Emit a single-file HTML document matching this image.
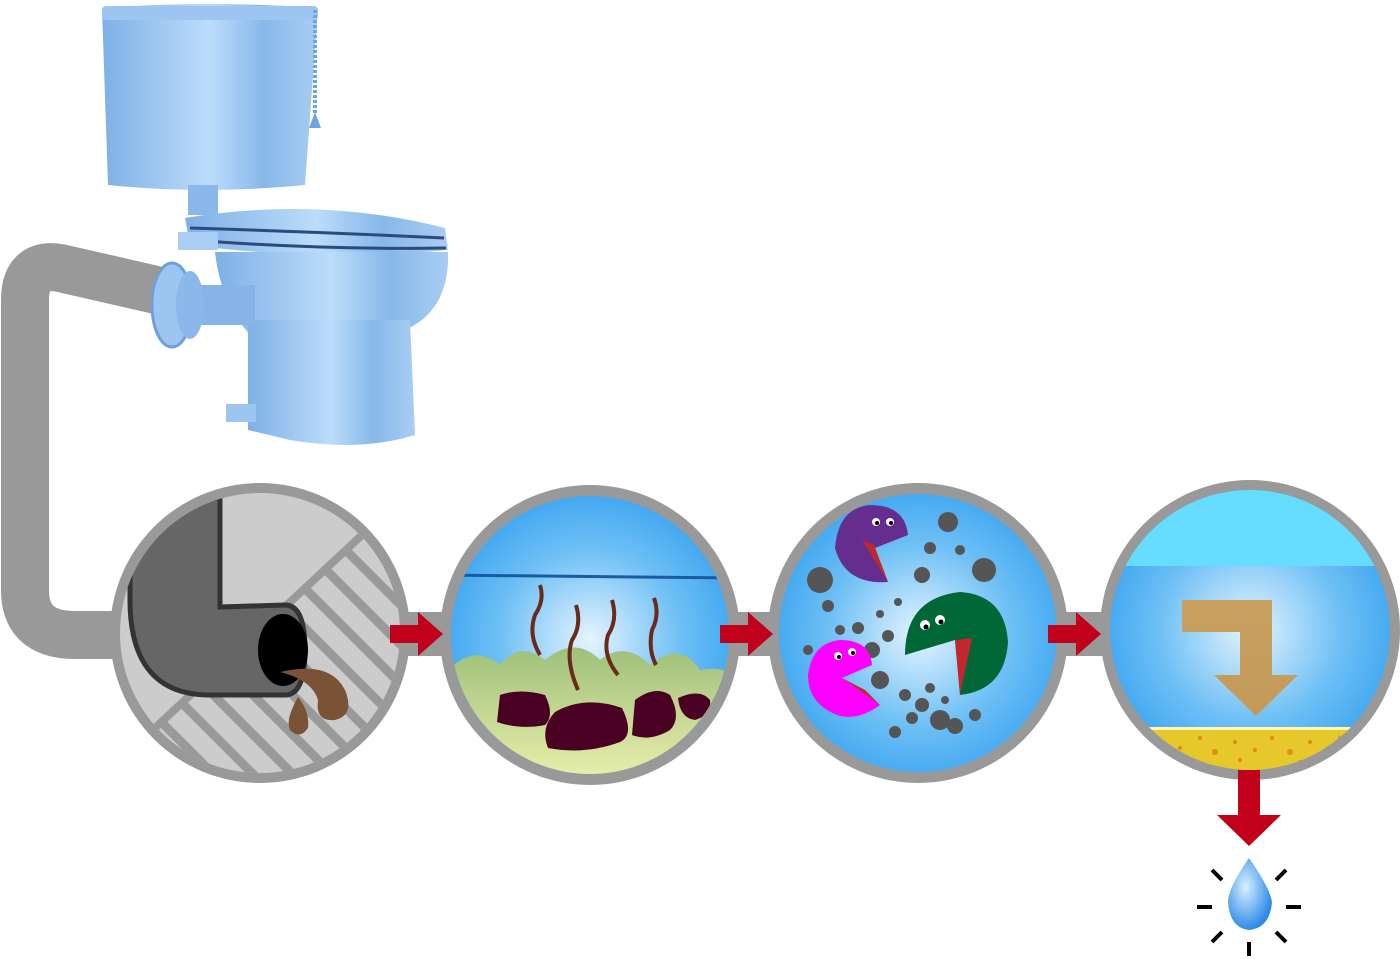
<!DOCTYPE html>
<html><head><meta charset="utf-8"><style>html,body{margin:0;padding:0;background:#fff}svg{display:block}</style></head>
<body>
<svg width="1400" height="959" viewBox="0 0 1400 959" xmlns="http://www.w3.org/2000/svg">
<defs>
<linearGradient id="tb" x1="0" x2="1" y1="0" y2="0">
<stop offset="0" stop-color="#7eb0e6"/><stop offset="0.5" stop-color="#bcdcfa"/><stop offset="0.75" stop-color="#86b8ea"/><stop offset="1" stop-color="#a9cdf3"/></linearGradient>
<radialGradient id="bl" cx="0.5" cy="0.5" r="0.5"><stop offset="0" stop-color="#e6f4ff"/><stop offset="0.6" stop-color="#6fc0f5"/><stop offset="1" stop-color="#3fa6f0"/></radialGradient>
<radialGradient id="drop" cx="0.4" cy="0.4" r="0.6"><stop offset="0" stop-color="#d8f0ff"/><stop offset="1" stop-color="#2f8ce8"/></radialGradient>
<linearGradient id="arr" x1="0" x2="0" y1="0" y2="1"><stop offset="0" stop-color="#c8a060"/><stop offset="1" stop-color="#c49a58"/></linearGradient>
<linearGradient id="ground" x1="0" x2="0" y1="0" y2="1"><stop offset="0" stop-color="#9ec07a"/><stop offset="1" stop-color="#f0f2b0"/></linearGradient>
<clipPath id="c1"><circle cx="260" cy="633" r="140"/></clipPath>
<clipPath id="c2"><circle cx="590" cy="635" r="139"/></clipPath>
<clipPath id="c3"><circle cx="918" cy="633" r="139"/></clipPath>
<clipPath id="c4"><circle cx="1250" cy="630" r="140"/></clipPath>
<pattern id="hatch" patternUnits="userSpaceOnUse" width="28" height="28" patternTransform="rotate(-45)">
<rect width="28" height="28" fill="#999"/><rect x="0" y="0" width="19" height="28" fill="#ccc"/></pattern>
</defs>

<path d="M165 292 L60 268 Q25 262 25 300 L25 590 Q25 635 75 635 L130 635" fill="none" stroke="#999" stroke-width="48"/>
<rect x="395" y="612" width="60" height="44" fill="#999"/>
<rect x="725" y="612" width="60" height="44" fill="#999"/>
<rect x="1055" y="612" width="60" height="44" fill="#999"/>

<path d="M102 8 Q210 0 318 8 L305 185 Q205 195 108 185 Z" fill="url(#tb)"/>
<rect x="102" y="6" width="216" height="14" rx="4" fill="#9cc6f1"/>
<line x1="315" y1="10" x2="315" y2="115" stroke="#6fa5df" stroke-width="4" stroke-dasharray="3,2"/>
<path d="M309 128 L315 112 L321 128 Z" fill="#6fa5df"/>
<rect x="188" y="185" width="30" height="30" fill="#8ab8ea"/>
<path d="M185 218 Q320 196 445 228 L448 250 Q320 262 190 245 Z" fill="url(#tb)"/>
<path d="M190 228 Q320 232 444 238" stroke="#2a4a80" stroke-width="3" fill="none"/>
<path d="M192 240 Q320 250 446 248" stroke="#2a4a80" stroke-width="3" fill="none"/>
<rect x="178" y="232" width="40" height="18" fill="#a9cdf3"/>
<path d="M215 252 L448 252 Q450 310 405 330 L250 335 Q220 300 215 252 Z" fill="url(#tb)"/>
<path d="M248 320 L410 320 L415 435 Q360 452 290 440 L248 430 Z" fill="url(#tb)"/>
<rect x="226" y="404" width="30" height="18" fill="#9cc6f1"/>
<rect x="175" y="285" width="80" height="40" fill="#86b4e6"/>
<ellipse cx="172" cy="305" rx="20" ry="42" fill="#9cc6f1" stroke="#6fa0d8" stroke-width="3"/>
<ellipse cx="190" cy="305" rx="14" ry="34" fill="#8ab8ea"/>

<circle cx="260" cy="633" r="150" fill="#999"/>
<g clip-path="url(#c1)">
<rect x="100" y="480" width="330" height="310" fill="#ccc"/>
<path d="M362 535 L450 620 L450 800 L240 800 L155 728 Z" fill="url(#hatch)"/>
<path d="M362 535 L155 728" stroke="#999" stroke-width="8"/>
<path d="M130 498 L220 498 L220 607 L285 605 Q305 605 305 650 Q305 695 285 695 L210 695 Q130 695 130 600 Z" fill="#666" stroke="#333" stroke-width="5"/>
<ellipse cx="283" cy="650" rx="25" ry="36" fill="#000"/>
<path d="M280 672 Q330 660 345 690 Q355 715 335 720 Q315 722 318 700 Q312 680 280 672 Z" fill="#7a5236"/>
<path d="M298 697 Q285 720 290 730 Q300 740 308 728 Q310 712 298 697 Z" fill="#7a5236"/>
</g>

<circle cx="590" cy="635" r="150" fill="#999"/>
<g clip-path="url(#c2)">
<rect x="440" y="490" width="300" height="300" fill="url(#bl)"/>
<line x1="440" y1="575" x2="740" y2="578" stroke="#1a5aa0" stroke-width="3"/>
<path d="M440 680 Q470 640 500 665 Q520 640 545 660 Q575 635 600 660 Q625 640 650 665 Q680 640 700 670 Q725 665 740 680 L740 790 L440 790 Z" fill="url(#ground)"/>
<path d="M500 695 Q520 688 545 695 Q555 715 545 725 Q520 730 497 722 Z" fill="#4a0022"/>
<path d="M555 712 Q585 695 622 708 Q635 735 620 742 Q585 755 548 748 Q540 728 555 712 Z" fill="#4a0022"/>
<path d="M635 700 Q655 685 670 695 Q682 718 670 730 Q650 742 632 735 Z" fill="#4a0022"/>
<path d="M678 698 Q700 688 710 700 Q712 715 695 720 Q680 718 678 698 Z" fill="#4a0022"/>
<g fill="none" stroke="#6b2a1a" stroke-width="4">
<path d="M540 585 Q545 600 535 615 Q528 635 540 655"/>
<path d="M576 605 Q582 625 572 640 Q565 660 578 690"/>
<path d="M612 600 Q618 620 608 635 Q602 655 618 675"/>
<path d="M654 598 Q660 615 652 630 Q648 650 656 665"/>
</g>
</g>

<circle cx="918" cy="633" r="150" fill="#999"/>
<g clip-path="url(#c3)">
<rect x="770" y="485" width="300" height="300" fill="url(#bl)"/>
<g fill="#555">
<circle cx="820" cy="580" r="13"/><circle cx="948" cy="522" r="10"/><circle cx="984" cy="570" r="12"/>
<circle cx="930" cy="548" r="6"/><circle cx="922" cy="575" r="8"/><circle cx="960" cy="550" r="5"/>
<circle cx="828" cy="606" r="6"/><circle cx="858" cy="628" r="6"/><circle cx="840" cy="630" r="5"/>
<circle cx="888" cy="636" r="6"/><circle cx="808" cy="650" r="5"/><circle cx="880" cy="680" r="9"/>
<circle cx="905" cy="695" r="6"/><circle cx="922" cy="705" r="7"/><circle cx="940" cy="720" r="10"/>
<circle cx="955" cy="726" r="8"/><circle cx="912" cy="718" r="6"/><circle cx="895" cy="732" r="6"/>
<circle cx="975" cy="715" r="6"/><circle cx="930" cy="688" r="5"/><circle cx="945" cy="700" r="4"/>
<circle cx="872" cy="650" r="8"/><circle cx="898" cy="602" r="4"/><circle cx="880" cy="614" r="4"/>
</g>
<path d="M870 505 Q905 505 908 535 L875 548 L888 582 Q845 585 835 548 Q838 508 870 505 Z" fill="#662d91"/>
<path d="M862 540 L888 582 L874 545 Z" fill="#c1272d"/>
<circle cx="876" cy="522" r="4" fill="#fff"/><circle cx="890" cy="522" r="4" fill="#fff"/>
<circle cx="877" cy="523" r="2" fill="#000"/><circle cx="891" cy="523" r="2" fill="#000"/>
<path d="M960 592 Q1005 595 1008 642 Q1005 690 960 695 L955 640 L905 655 Q905 598 960 592 Z" fill="#006837"/>
<path d="M955 640 L960 695 L972 638 Z" fill="#c1272d"/>
<circle cx="925" cy="625" r="5" fill="#fff"/><circle cx="940" cy="620" r="5" fill="#fff"/>
<circle cx="926" cy="627" r="2.5" fill="#000"/><circle cx="941" cy="622" r="2.5" fill="#000"/>
<path d="M840 640 Q870 640 872 665 L842 678 L880 705 Q860 720 840 716 Q808 705 808 675 Q812 643 840 640 Z" fill="#ff00ff"/>
<path d="M842 678 L880 705 L865 690 Z" fill="#c1272d"/>
<circle cx="838" cy="656" r="4" fill="#fff"/><circle cx="852" cy="652" r="4" fill="#fff"/>
<circle cx="839" cy="657" r="2" fill="#000"/><circle cx="853" cy="653" r="2" fill="#000"/>
</g>

<circle cx="1250" cy="630" r="150" fill="#999"/>
<g clip-path="url(#c4)">
<rect x="1100" y="480" width="300" height="300" fill="url(#bl)"/>
<rect x="1100" y="480" width="300" height="86" fill="#66ddff"/>
<rect x="1100" y="727" width="300" height="60" fill="#e6c82a"/>
<rect x="1100" y="727" width="300" height="3" fill="#fff6b0"/>
<g fill="#e08a1a">
<circle cx="1160" cy="740" r="2"/><circle cx="1180" cy="748" r="2"/><circle cx="1200" cy="738" r="2"/><circle cx="1215" cy="752" r="3"/>
<circle cx="1235" cy="742" r="2"/><circle cx="1255" cy="750" r="2"/><circle cx="1272" cy="738" r="2"/><circle cx="1290" cy="752" r="3"/>
<circle cx="1310" cy="742" r="2"/><circle cx="1328" cy="748" r="2"/><circle cx="1170" cy="758" r="2"/><circle cx="1240" cy="760" r="2"/>
<circle cx="1300" cy="762" r="2"/><circle cx="1340" cy="738" r="2"/><circle cx="1150" cy="750" r="2"/>
</g>
<path d="M1182 600 L1272 600 L1272 675 L1298 675 L1256 716 L1214 675 L1240 675 L1240 632 L1182 632 Z" fill="url(#arr)"/>
</g>

<g fill="#c1001b">
<path d="M390 625 L418 625 L418 612 L443 634 L418 656 L418 643 L390 643 Z"/>
<path d="M720 625 L748 625 L748 612 L773 634 L748 656 L748 643 L720 643 Z"/>
<path d="M1048 625 L1076 625 L1076 612 L1101 634 L1076 656 L1076 643 L1048 643 Z"/>
<path d="M1238 770 L1260 770 L1260 815 L1281 815 L1249 846 L1217 815 L1238 815 Z"/>
</g>

<path d="M1249 858 Q1228 888 1228 902 Q1230 928 1249 930 Q1270 928 1272 902 Q1270 888 1249 858 Z" fill="url(#drop)"/>
<g stroke="#000" stroke-width="4">
<line x1="1197" y1="907" x2="1212" y2="907"/><line x1="1286" y1="907" x2="1301" y2="907"/>
<line x1="1212" y1="870" x2="1222" y2="880"/><line x1="1286" y1="870" x2="1276" y2="880"/>
<line x1="1212" y1="942" x2="1222" y2="932"/><line x1="1286" y1="942" x2="1276" y2="932"/>
<line x1="1249" y1="942" x2="1249" y2="956"/>
</g>
</svg>
</body></html>
